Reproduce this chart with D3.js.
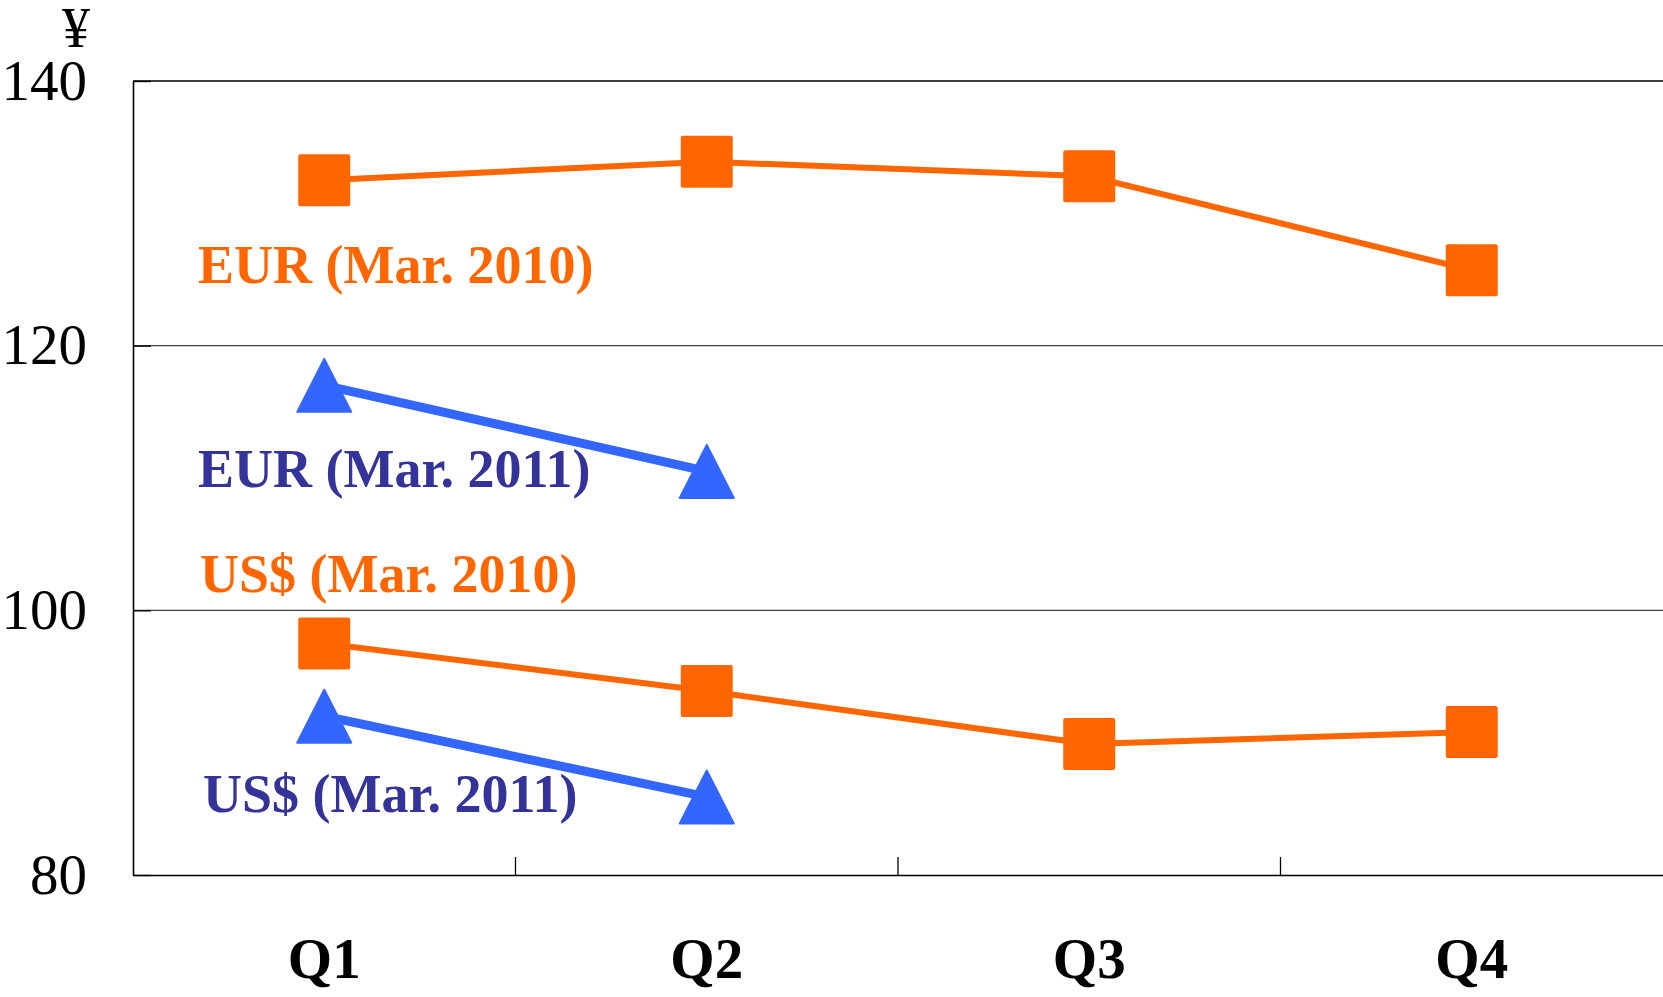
<!DOCTYPE html>
<html>
<head>
<meta charset="utf-8">
<script src="https://cdn.jsdelivr.net/npm/d3@7"></script>
<style>
  body { margin: 0; background: #fff; }
  svg { display: block; }
</style>
</head>
<body>
<script>
// dati
const quarters = ["Q1", "Q2", "Q3", "Q4"];
const yTicks = [80, 100, 120, 140];
const eur2010 = [132.5, 133.9, 132.8, 125.7];
const eur2011 = [117.0, 110.5];
const usd2010 = [97.5, 93.9, 89.9, 90.8];
const usd2011 = [92.0, 85.9];
const seriesNames = ["EUR (Mar. 2010)", "EUR (Mar. 2011)", "US$ (Mar. 2010)", "US$ (Mar. 2011)"];

const width = 1663;
const height = 997;
const plotLeft = 133, plotRight = 1663, plotTop = 81, plotBottom = 875;
const orange = "#ff6600";
const blue = "#3366ff";
const navy = "#333399";
const serif = "'Liberation Serif', 'Times New Roman', serif";

const svg = d3.select("body")
  .append("svg")
  .attr("width", width)
  .attr("height", height);

const x = d3.scaleBand().domain(quarters).range([plotLeft, plotRight]).padding(0);
const y = d3.scaleLinear().domain([80, 140]).range([plotBottom, plotTop]);
const cx = (q) => x(q) + x.bandwidth() / 2;

// griglia
svg.append("g")
  .selectAll("line")
  .data(yTicks.filter((d) => d > 80))
  .join("line")
  .attr("x1", plotLeft)
  .attr("x2", plotRight)
  .attr("y1", (d) => y(d))
  .attr("y2", (d) => y(d))
  .attr("stroke", (d) => d === 140 ? "#000" : "#444")
  .attr("stroke-width", 1.3);

// asse y
const yAxis = svg.append("g")
  .attr("transform", `translate(${plotLeft},0)`)
  .call(d3.axisLeft(y).tickValues(yTicks).tickSizeInner(-18).tickSizeOuter(0).tickPadding(46));
yAxis.select(".domain").attr("stroke", "#000").attr("stroke-width", 1.6);
yAxis.selectAll(".tick line").attr("stroke", "#000").attr("stroke-width", 1.3);
yAxis.selectAll("text")
  .attr("font-family", serif)
  .attr("font-size", 57)
  .attr("fill", "#000");

svg.append("text")
  .attr("x", 76)
  .attr("y", 47)
  .attr("text-anchor", "middle")
  .attr("font-family", serif)
  .attr("font-size", 56)
  .text("¥");

// asse x
const xAxis = svg.append("g")
  .attr("transform", `translate(0,${plotBottom})`)
  .call(d3.axisBottom(x).tickSize(0).tickPadding(63));
xAxis.select(".domain").attr("stroke", "#000").attr("stroke-width", 1.6);
xAxis.selectAll("text")
  .attr("font-family", serif)
  .attr("font-weight", "bold")
  .attr("font-size", 57)
  .attr("fill", "#000");

svg.append("g")
  .selectAll("line")
  .data(quarters.slice(1))
  .join("line")
  .attr("x1", (d) => x(d))
  .attr("x2", (d) => x(d))
  .attr("y1", plotBottom)
  .attr("y2", plotBottom - 18)
  .attr("stroke", "#000")
  .attr("stroke-width", 1.3);

// linee
const line = d3.line()
  .x((d, i) => cx(quarters[i]))
  .y((d) => y(d));

const series = [
  { values: eur2010, color: orange, lw: 6, marker: "square" },
  { values: eur2011, color: blue, lw: 9, marker: "triangle" },
  { values: usd2010, color: orange, lw: 6, marker: "square" },
  { values: usd2011, color: blue, lw: 9, marker: "triangle" }
];

series.forEach((s) => {
  svg.append("path")
    .datum(s.values)
    .attr("fill", "none")
    .attr("stroke", s.color)
    .attr("stroke-width", s.lw)
    .attr("d", line);

  const g = svg.append("g");
  if (s.marker === "square") {
    g.selectAll("rect")
      .data(s.values)
      .join("rect")
      .attr("x", (d, i) => cx(quarters[i]) - 26)
      .attr("y", (d) => y(d) - 26)
      .attr("width", 52)
      .attr("height", 52)
      .attr("rx", 2)
      .attr("fill", s.color);
  } else {
    g.selectAll("path")
      .data(s.values)
      .join("path")
      .attr("transform", (d, i) => `translate(${cx(quarters[i])},${y(d)})`)
      .attr("d", "M0,-26.5L27,26.5L-27,26.5Z")
      .attr("fill", s.color)
      .attr("stroke", s.color)
      .attr("stroke-width", 2)
      .attr("stroke-linejoin", "round");
  }
});

// etichette
const labelY = [283, 487, 592, 812];
const labelX = [198, 198, 200, 203];
const labelColor = [orange, navy, orange, navy];
svg.append("g")
  .selectAll("text")
  .data(seriesNames)
  .join("text")
  .attr("x", (d, i) => labelX[i])
  .attr("y", (d, i) => labelY[i])
  .attr("font-family", serif)
  .attr("font-weight", "bold")
  .attr("font-size", 54)
  .attr("fill", (d, i) => labelColor[i])
  .text((d) => d);
</script>
</body>
</html>
